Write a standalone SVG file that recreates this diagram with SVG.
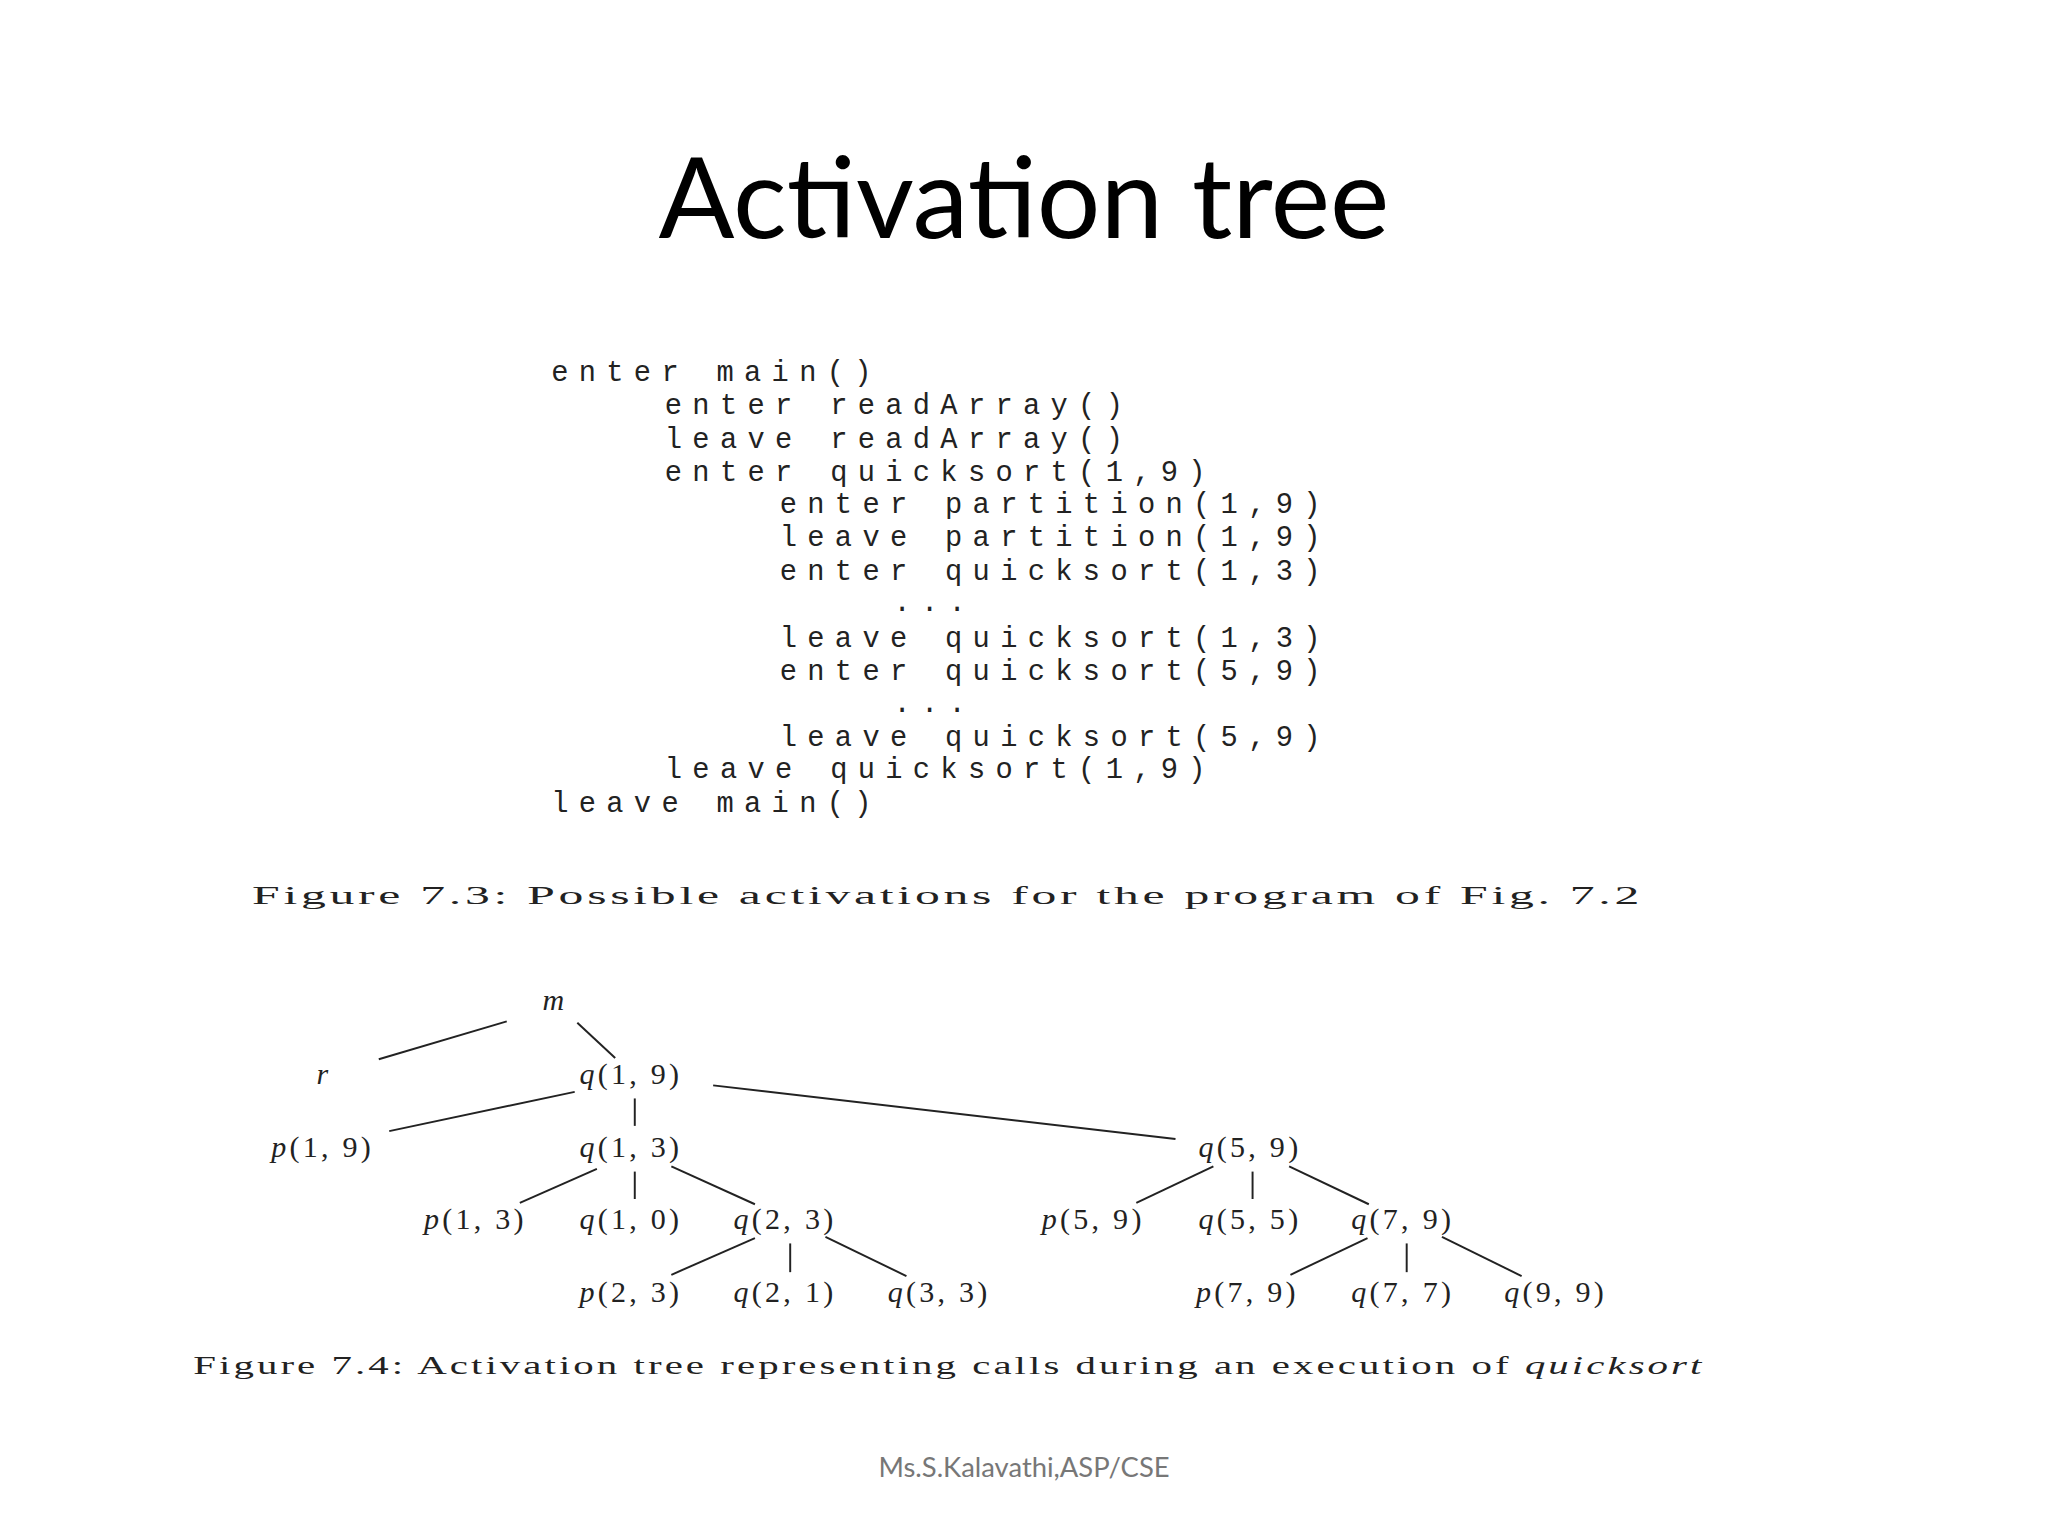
<svg xmlns="http://www.w3.org/2000/svg" width="2048" height="1536" viewBox="0 0 2048 1536">
<style>
.code{font-family:"Liberation Mono",monospace;font-size:22px;letter-spacing:7.9px;fill:#222}
.cap{font-family:"Liberation Serif",serif;font-size:20px;fill:#222;letter-spacing:1.5px}
.n{font-family:"Liberation Serif",serif;font-size:23px;fill:#222;text-anchor:middle;letter-spacing:2.5px}
.i{font-style:italic}
#edges line{stroke:#222;stroke-width:1.5}
</style>
<rect width="2048" height="1536" fill="#fff"/>
<g transform="scale(1.30612)">
<text x="784" y="182" text-anchor="middle" font-family="Lato,sans-serif" font-size="86" fill="#000">Activation tree</text>
<g id="code">
<text class="code" x="422" y="292">enter main()</text>
<text class="code" x="509" y="317">enter readArray()</text>
<text class="code" x="509" y="343">leave readArray()</text>
<text class="code" x="509" y="368">enter quicksort(1,9)</text>
<text class="code" x="597" y="393">enter partition(1,9)</text>
<text class="code" x="597" y="418">leave partition(1,9)</text>
<text class="code" x="597" y="444">enter quicksort(1,3)</text>
<text class="code" x="684" y="468">...</text>
<text class="code" x="597" y="495">leave quicksort(1,3)</text>
<text class="code" x="597" y="521">enter quicksort(5,9)</text>
<text class="code" x="684" y="545">...</text>
<text class="code" x="597" y="571">leave quicksort(5,9)</text>
<text class="code" x="509" y="596">leave quicksort(1,9)</text>
<text class="code" x="422" y="622">leave main()</text>
</g>
<text class="cap" x="193" y="692" textLength="1065" lengthAdjust="spacingAndGlyphs">Figure 7.3: Possible activations for the program of Fig. 7.2</text>
<g id="edges">
<line x1="388" y1="782" x2="290" y2="811"/>
<line x1="442" y1="783" x2="471" y2="810"/>
<line x1="440" y1="836" x2="298" y2="866"/>
<line x1="486" y1="841" x2="486" y2="862"/>
<line x1="546" y1="831" x2="900" y2="872"/>
<line x1="457" y1="895" x2="398" y2="921"/>
<line x1="486" y1="897" x2="486" y2="918"/>
<line x1="514" y1="893" x2="578" y2="922"/>
<line x1="578" y1="948" x2="514" y2="976"/>
<line x1="605" y1="952" x2="605" y2="974"/>
<line x1="632" y1="947" x2="694" y2="977"/>
<line x1="929" y1="893" x2="870" y2="921"/>
<line x1="959" y1="897" x2="959" y2="918"/>
<line x1="987" y1="893" x2="1048" y2="922"/>
<line x1="1047" y1="948" x2="988" y2="976"/>
<line x1="1077" y1="952" x2="1077" y2="974"/>
<line x1="1104" y1="947" x2="1165" y2="977"/>
</g>
<g id="n_m"><text class="n i" x="425" y="773">m</text></g>
<g id="n_r"><text class="n i" x="248" y="830">r</text></g>
<g id="n_q19"><text class="n" x="483" y="830"><tspan class="i">q</tspan>(1, 9)</text></g>
<g id="n_p19"><text class="n" x="247" y="886"><tspan class="i">p</tspan>(1, 9)</text></g>
<g id="n_q13"><text class="n" x="483" y="886"><tspan class="i">q</tspan>(1, 3)</text></g>
<g id="n_q59"><text class="n" x="957" y="886"><tspan class="i">q</tspan>(5, 9)</text></g>
<g id="n_p13"><text class="n" x="364" y="941"><tspan class="i">p</tspan>(1, 3)</text></g>
<g id="n_q10"><text class="n" x="483" y="941"><tspan class="i">q</tspan>(1, 0)</text></g>
<g id="n_q23"><text class="n" x="601" y="941"><tspan class="i">q</tspan>(2, 3)</text></g>
<g id="n_p59"><text class="n" x="837" y="941"><tspan class="i">p</tspan>(5, 9)</text></g>
<g id="n_q55"><text class="n" x="957" y="941"><tspan class="i">q</tspan>(5, 5)</text></g>
<g id="n_q79"><text class="n" x="1074" y="941"><tspan class="i">q</tspan>(7, 9)</text></g>
<g id="n_p23"><text class="n" x="483" y="997"><tspan class="i">p</tspan>(2, 3)</text></g>
<g id="n_q21"><text class="n" x="601" y="997"><tspan class="i">q</tspan>(2, 1)</text></g>
<g id="n_q33"><text class="n" x="719" y="997"><tspan class="i">q</tspan>(3, 3)</text></g>
<g id="n_p79"><text class="n" x="955" y="997"><tspan class="i">p</tspan>(7, 9)</text></g>
<g id="n_q77"><text class="n" x="1074" y="997"><tspan class="i">q</tspan>(7, 7)</text></g>
<g id="n_q99"><text class="n" x="1191" y="997"><tspan class="i">q</tspan>(9, 9)</text></g>
<text class="cap" x="148" y="1052" textLength="1157" lengthAdjust="spacingAndGlyphs">Figure 7.4: Activation tree representing calls during an execution of <tspan font-style="italic">quicksort</tspan></text>
<text x="784" y="1131" text-anchor="middle" font-family="Lato,sans-serif" font-size="21" fill="#777">Ms.S.Kalavathi,ASP/CSE</text>
</g>
</svg>
